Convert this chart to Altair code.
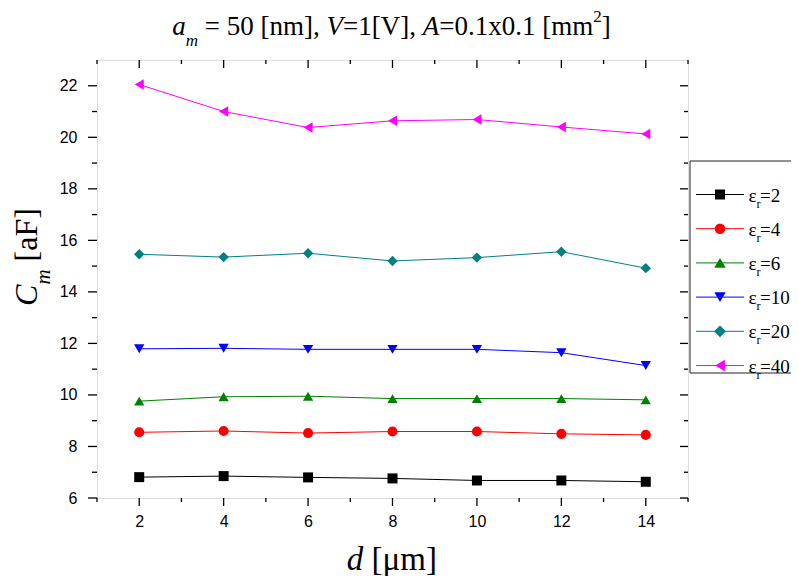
import altair as alt
import pandas as pd

# ---------------- data ----------------
d_um = [2, 4, 6, 8, 10, 12, 14]
eps_labels = ["2", "4", "6", "10", "20", "40"]
c_eps2 = [6.81, 6.85, 6.80, 6.76, 6.68, 6.68, 6.63]
c_eps4 = [8.55, 8.60, 8.52, 8.58, 8.58, 8.49, 8.45]
c_eps6 = [9.76, 9.93, 9.95, 9.86, 9.86, 9.86, 9.81]
c_eps10 = [11.79, 11.81, 11.77, 11.77, 11.77, 11.64, 11.14]
c_eps20 = [15.46, 15.35, 15.50, 15.20, 15.33, 15.56, 14.92]
c_eps40 = [22.05, 21.00, 20.38, 20.64, 20.69, 20.40, 20.13]
series_values = [c_eps2, c_eps4, c_eps6, c_eps10, c_eps20, c_eps40]

x_major = [2, 4, 6, 8, 10, 12, 14]
x_minor = [1, 3, 5, 7, 9, 11, 13, 15]
y_major = [6, 8, 10, 12, 14, 16, 18, 20, 22]
y_minor = [7, 9, 11, 13, 15, 17, 19, 21]

colors = ["#000000", "#FF0000", "#008000", "#0000FF", "#008080", "#FF00FF"]
shapes = ["square", "circle", "triangle-up", "triangle-down", "diamond", "triangle-left"]
sizes = [100, 110, 130, 130, 140, 130]

rows = []
for lab, vals in zip(eps_labels, series_values):
    for d, c in zip(d_um, vals):
        rows.append({"d": d, "C": c, "s": lab})
df = pd.DataFrame(rows)

W, H = 591, 438
XS = alt.Scale(domain=[1, 15], nice=False, zero=False)
YS = alt.Scale(domain=[6, 23], nice=False, zero=False)
SERIF = "Liberation Serif"
SANS = "Liberation Sans"

color_enc = alt.Color("s:N", scale=alt.Scale(domain=eps_labels, range=colors), legend=None)
shape_enc = alt.Shape("s:N", scale=alt.Scale(domain=eps_labels, range=shapes), legend=None)
size_enc = alt.Size("s:N", scale=alt.Scale(domain=eps_labels, range=sizes), legend=None)

xax = alt.Axis(values=x_major, ticks=False, domain=False, grid=False, title=None,
               labelFont=SANS, labelFontSize=16, labelColor="black", labelPadding=15,
               labelFlush=False)
yax = alt.Axis(values=y_major, ticks=False, domain=False, grid=False, title=None,
               labelFont=SANS, labelFontSize=16, labelColor="black", labelPadding=20)

lines = alt.Chart(df).mark_line(strokeWidth=1).encode(
    x=alt.X("d:Q", scale=XS, axis=xax),
    y=alt.Y("C:Q", scale=YS, axis=yax),
    color=color_enc,
    detail="s:N",
)
points = alt.Chart(df).mark_point(filled=True, opacity=1).encode(
    x=alt.X("d:Q", scale=XS),
    y=alt.Y("C:Q", scale=YS),
    color=color_enc,
    shape=shape_enc,
    size=size_enc,
)

layers = [lines, points]

# ---------------- ticks (minor + major, inside on top/right) ----------------
def xticks(vals, y0, y1):
    return alt.Chart(pd.DataFrame({"v": vals})).mark_rule(color="black", strokeWidth=1.3).encode(
        x=alt.X("v:Q", scale=XS), y=alt.value(y0), y2=alt.value(y1))

def yticks(vals, x0, x1):
    return alt.Chart(pd.DataFrame({"v": vals})).mark_rule(color="black", strokeWidth=1.3).encode(
        y=alt.Y("v:Q", scale=YS), x=alt.value(x0), x2=alt.value(x1))

layers += [
    xticks(x_major, H, H + 8), xticks(x_minor, H, H + 4),
    xticks(x_major, 0, 8), xticks(x_minor, 0, 4),
    yticks(y_major, 0, -9), yticks(y_minor, 0, -5),
    yticks(y_major, W, W - 8), yticks(y_minor, W, W - 4),
]

one = pd.DataFrame({"k": [0]})

# ---------------- rich text helpers ----------------
REG = {" ": .25, "=": .564, "[": .333, "]": .333, "n": .5, "m": .778, ",": .25,
       "V": .722, ".": .25, "x": .5, "a": .444, "F": .556, "\u03bc": .576}
ITA = {"a": .5, "m": .722, "V": .611, "A": .611, "C": .667, "d": .5}

def run_width(text, size, italic):
    tab = ITA if italic else REG
    return sum(tab.get(ch, .5) for ch in text) * size

def rich_runs(runs):
    out, pos = [], 0.0
    for text, size, italic, shift in runs:
        lead = len(text) - len(text.lstrip(" "))
        out.append((text.strip(" "), size, italic, shift, pos + lead * .25 * size))
        pos += run_width(text, size, italic)
    return out, pos

def text_layer(txt, size, italic, x, y, angle=0, color="black"):
    kw = dict(text=txt, font=SERIF, fontSize=size, align="left", baseline="alphabetic",
              color=color, fontStyle="italic" if italic else "normal")
    if angle:
        kw["angle"] = angle
    return alt.Chart(one).mark_text(**kw).encode(x=alt.value(x), y=alt.value(y))

# title
title_runs = [("a", 27, True, 0), ("m", 17, True, 11), (" = 50 [nm], ", 27, False, 0),
              ("V", 27, True, 0), ("=1[V], ", 27, False, 0), ("A", 27, True, 0),
              ("=0.1x0.1 [mm", 27, False, 0), ("2", 17, False, -13), ("]", 27, False, 0)]
pieces, total = rich_runs(title_runs)
x0 = W / 2 - 1 - total / 2
for txt, size, it, sh, off in pieces:
    layers.append(text_layer(txt, size, it, x0 + off, -25 + sh))

# x title
xt_runs = [("d", 33, True, 0), (" [\u03bcm]", 33, False, 0)]
pieces, total = rich_runs(xt_runs)
x0 = W / 2 - total / 2
for txt, size, it, sh, off in pieces:
    layers.append(text_layer(txt, size, it, x0 + off, 510 + sh))

# y title (rotated, reading bottom to top)
yt_runs = [("C", 32, True, 0), ("m", 21, True, 13), (" [aF]", 32, False, 0)]
pieces, total = rich_runs(yt_runs)
y0 = H / 2 - 22 + total / 2
for txt, size, it, sh, off in pieces:
    layers.append(text_layer(txt, size, it, -60 + sh, y0 - off, angle=270))

# ---------------- legend ----------------
layers.append(alt.Chart(one).mark_rect(fill="white", stroke="#222222", strokeWidth=1).encode(
    x=alt.value(593), x2=alt.value(730), y=alt.value(101), y2=alt.value(313)))
for i, (lab, col, shp, sz) in enumerate(zip(eps_labels, colors, shapes, sizes)):
    yy = 134.5 + i * 34.2
    layers.append(alt.Chart(one).mark_rule(color=col, strokeWidth=1).encode(
        x=alt.value(599), x2=alt.value(647), y=alt.value(yy)))
    layers.append(alt.Chart(one).mark_point(filled=True, opacity=1, size=sz, color=col,
                                            shape=shp).encode(
        x=alt.value(623), y=alt.value(yy)))
    layers.append(text_layer("\u03b5", 19, False, 651.5, yy + 7))
    layers.append(text_layer("r", 12.5, False, 659.5, yy + 13))
    layers.append(text_layer("=" + lab, 19, False, 663, yy + 7))

chart = alt.layer(*layers).properties(
    width=W, height=H,
    autosize=alt.AutoSizeParams(type="none"),
    padding={"left": 89, "top": 52, "right": 103, "bottom": 78},
).configure_view(stroke="black", strokeWidth=1.5).configure(background="white")

chart.save("out.html", embed_options={"renderer": "svg", "actions": False})
